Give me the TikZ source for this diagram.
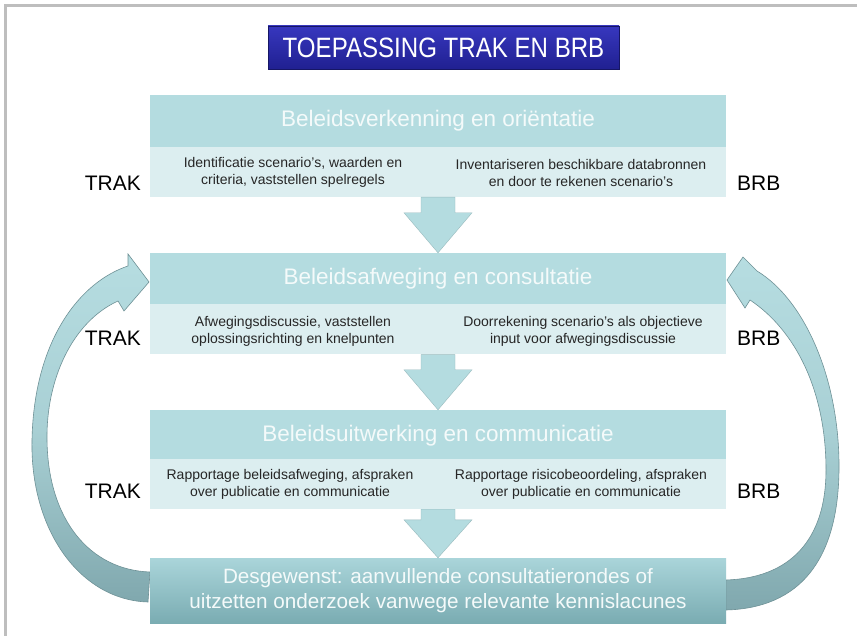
\documentclass[tikz,border=0pt]{standalone}
\usepackage{fontspec}
\setmainfont{Liberation Sans}
\usetikzlibrary{calc}
\definecolor{hdr}{RGB}{180,220,224}
\definecolor{subc}{RGB}{220,238,240}
\definecolor{hdrtext}{RGB}{244,250,250}
\definecolor{btop}{RGB}{170,213,218}
\definecolor{bbot}{RGB}{122,172,178}
\definecolor{arrlight}{RGB}{182,221,225}
\definecolor{arrdark}{RGB}{128,168,174}
\definecolor{arrline}{RGB}{110,145,150}
\definecolor{ttop}{RGB}{55,55,190}
\definecolor{tbot}{RGB}{32,32,145}
\definecolor{framec}{RGB}{190,190,190}
\begin{document}
\begin{tikzpicture}[x=1pt,y=-1pt,
  hdrbox/.style={fill=hdr, minimum width=576pt, minimum height=52pt, inner sep=0pt,
    text=hdrtext, font=\fontsize{22.5}{26}\selectfont},
  subbox/.style={fill=subc, minimum width=576pt, minimum height=50pt, inner sep=0pt},
  subtext/.style={align=center, inner sep=0pt, font=\fontsize{14}{17}\selectfont, text=black!85},
  side/.style={inner sep=0pt, font=\fontsize{21}{25}\selectfont, text=black},
  blockarrow/.style={fill=hdr, draw=hdr!85!black, line width=0.4pt},
  curvarrow/.style={draw=arrline, line width=0.6pt, top color=arrlight, bottom color=arrdark,
    middle color=arrlight!75!arrdark},
  endbox/.style={minimum width=576pt, minimum height=65pt, inner sep=0pt, top color=btop,
    bottom color=bbot, align=center, text=hdrtext, font=\fontsize{20.7}{25.5}\selectfont},
  titlebox/.style={minimum width=351pt, minimum height=43pt, inner sep=0pt, top color=ttop,
    bottom color=tbot, draw=tbot!70!black, line width=0.6pt, text=white,
    font=\fontsize{28}{32}\selectfont}
]
\useasboundingbox (0,0) rectangle (857,636);
\fill[white] (0,0) rectangle (857,636);
\fill[framec] (4,4) rectangle (857,7);
\fill[framec] (4,4) rectangle (7,636);

% curved return arrows
\path[curvarrow] (148,602) .. controls (80,600) and (30,530) .. (32,440)
  .. controls (34,340) and (80,282) .. (128,266) -- (128,254) -- (149,282) -- (124,311) -- (118,301)
  .. controls (72,322) and (46,380) .. (47,440) .. controls (48,520) and (90,570) .. (150,572) -- cycle;
\path[curvarrow] (726,610) .. controls (800,608) and (838,560) .. (839,470)
  .. controls (840,380) and (805,300) .. (757,271) -- (743,257) -- (727,280) -- (745,308) -- (750,300)
  .. controls (795,330) and (826,390) .. (826,470) .. controls (826,540) and (790,578) .. (726,580) -- cycle;

% title
\node[titlebox] (title) at (443.5,47.5) {\scalebox{0.86}[1]{TOEPASSING TRAK EN BRB}};

% stage 1
\node[hdrbox] (h1) at (438,121) {Beleidsverkenning en oriëntatie};
\node[subbox] (s1) at (438,172) {};
\node[subtext] (t1l) at (293,172.5) {Identificatie scenario’s, waarden en\\criteria, vaststellen spelregels};
\node[subtext] (t1r) at (581,172.5) {Inventariseren beschikbare databronnen\\en door te rekenen scenario’s};

% stage 2
\node[hdrbox] (h2) at (438,279) {Beleidsafweging en consultatie};
\node[subbox] (s2) at (438,329.5) {};
\node[subtext] (t2l) at (293,331) {Afwegingsdiscussie, vaststellen\\oplossingsrichting en knelpunten};
\node[subtext] (t2r) at (583,331) {Doorrekening scenario’s als objectieve\\input voor afwegingsdiscussie};

% stage 3
\node[hdrbox] (h3) at (438,436) {Beleidsuitwerking en communicatie};
\node[subbox] (s3) at (438,484) {};
\node[subtext] (t3l) at (290,484.5) {Rapportage beleidsafweging, afspraken\\over publicatie en communicatie};
\node[subtext] (t3r) at (581,484.5) {Rapportage risicobeoordeling, afspraken\\over publicatie en communicatie};

% final stage
\node[endbox] (h4) at (438,590.5) {Desgewenst: aanvullende consultatierondes of\\uitzetten onderzoek vanwege relevante kennislacunes};

% side labels
\node[side, anchor=east] (trak1) at (141,183) {TRAK};
\node[side, anchor=east] (trak2) at (141,338) {TRAK};
\node[side, anchor=east] (trak3) at (141,491) {TRAK};
\node[side, anchor=west] (brb1) at (737,183) {BRB};
\node[side, anchor=west] (brb2) at (737,338) {BRB};
\node[side, anchor=west] (brb3) at (737,491) {BRB};

% block arrows between stages
\draw[blockarrow] let \p1=(s1.south), \p2=(h2.north) in
  (\x1-17pt,\y1) -- (\x1+17pt,\y1) -- (\x1+17pt,\y2+40pt) -- (\x1+34pt,\y2+40pt) -- (\x2,\y2)
  -- (\x1-34pt,\y2+40pt) -- (\x1-17pt,\y2+40pt) -- cycle;
\draw[blockarrow] let \p1=(s2.south), \p2=(h3.north) in
  (\x1-17pt,\y1) -- (\x1+17pt,\y1) -- (\x1+17pt,\y2+40pt) -- (\x1+34pt,\y2+40pt) -- (\x2,\y2)
  -- (\x1-34pt,\y2+40pt) -- (\x1-17pt,\y2+40pt) -- cycle;
\draw[blockarrow] let \p1=(s3.south), \p2=(h4.north) in
  (\x1-17pt,\y1) -- (\x1+17pt,\y1) -- (\x1+17pt,\y2+38pt) -- (\x1+34pt,\y2+38pt) -- (\x2,\y2)
  -- (\x1-34pt,\y2+38pt) -- (\x1-17pt,\y2+38pt) -- cycle;
\end{tikzpicture}
\end{document}
